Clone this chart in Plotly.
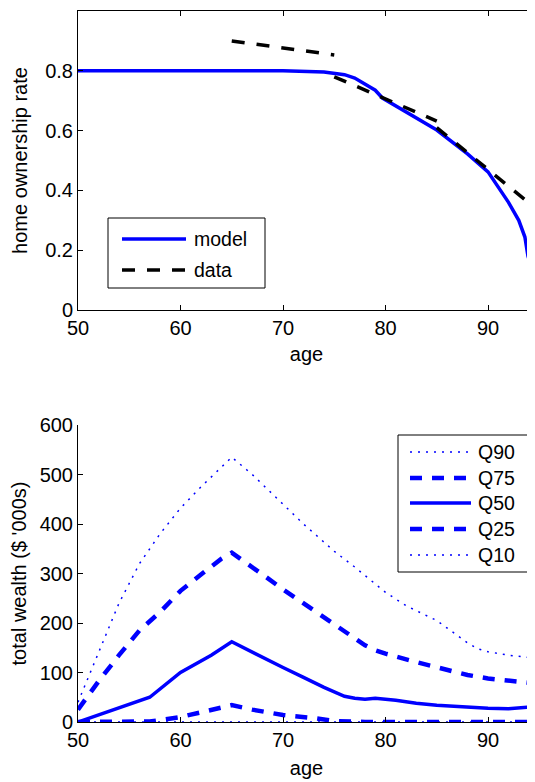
import plotly.graph_objects as go

# ---------- top panel data ----------
model_age = [50, 55, 60, 65, 70, 74, 75, 76, 77, 78, 79, 79.7, 82, 85, 88, 90, 92, 93, 93.6, 93.9, 94.6, 95]
model_val = [0.80, 0.80, 0.80, 0.80, 0.80, 0.796, 0.792, 0.787, 0.776, 0.755, 0.735, 0.709, 0.662, 0.602,
             0.522, 0.462, 0.36, 0.30, 0.244, 0.18, 0.11, 0.08]
data_age = [65, 75, None, 75, 85, None, 85, 95]
data_val = [0.90, 0.853, None, 0.78, 0.632, None, 0.61, 0.33]

# ---------- bottom panel data ----------
q90_age = [50, 52, 54, 56, 58, 60, 62, 64, 65, 67, 70, 72, 75, 77, 80, 82, 85, 88, 89, 90, 92, 94, 95]
q90_val = [40, 140, 240, 320, 380, 432, 475, 515, 535, 500, 440, 400, 345, 313, 262, 235, 205, 160, 148, 142, 135, 130, 128]
q75_age = [50, 52, 54, 56, 58, 60, 62, 64, 65, 66, 68, 70, 72, 74, 76, 78, 79, 80, 83, 86, 88, 90, 92, 94, 95]
q75_val = [25, 82, 135, 185, 222, 265, 298, 330, 342, 328, 298, 268, 240, 210, 182, 155, 145, 138, 121, 104, 95, 88, 84, 80, 77]
q50_age = [50, 53, 57, 60, 63, 65, 68, 70, 72, 74, 76, 77, 78, 79, 81, 83, 85, 88, 90, 92, 93, 94, 95]
q50_val = [0, 22, 50, 100, 135, 162, 130, 110, 90, 70, 52, 48, 46, 48, 44, 38, 34, 30, 28, 27, 28, 30, 28]
q25_age = [50, 56, 57, 60, 63, 65, 67, 70, 73, 75, 78, 95]
q25_val = [0, 0, 1, 10, 25, 34, 25, 14, 8, 2, 0, 0]
q10_age = [50, 95]
q10_val = [0, 0]

top_yticks = [0, 0.2, 0.4, 0.6, 0.8, 1]
top_ytext = ["0", "0.2", "0.4", "0.6", "0.8", "1"]
bot_yticks = [0, 100, 200, 300, 400, 500, 600]
x_ticks = [50, 60, 70, 80, 90]

BLUE = "#0000FF"
FONT = "Liberation Sans, Arial, Helvetica, sans-serif"

# the page body has an 8px margin: the figure starts at (8, 8) in the window
OFF = 8
W, H = 535 - OFF, 782 - OFF
# plot-area edges in window pixels
LEFT, RIGHT, TOP, BOTTOM = 78, 535, 11, 722
ML, MR, MT, MB = LEFT - OFF, 0, TOP - OFF, H - (BOTTOM - OFF)
PW, PH = W - ML - MR, H - MT - MB


def px(xw):
    return (xw - LEFT) / PW


def py(yw):
    return (BOTTOM - yw) / PH


styles = {
    "model": dict(color=BLUE, width=3.5),
    "data": dict(color="black", width=3.5, dash="13px,12px"),
    "Q90": dict(color=BLUE, width=1.5, dash="2px,6px"),
    "Q75": dict(color=BLUE, width=4.5, dash="12px,10px"),
    "Q50": dict(color=BLUE, width=3.5),
    "Q25": dict(color=BLUE, width=4.5, dash="12px,10px"),
    "Q10": dict(color=BLUE, width=1.5, dash="2px,6px"),
}

fig = go.Figure()

fig.add_trace(go.Scatter(x=model_age, y=model_val, mode="lines", name="model",
                         line=styles["model"], xaxis="x", yaxis="y"))
fig.add_trace(go.Scatter(x=data_age, y=data_val, mode="lines", name="data",
                         line=styles["data"], xaxis="x", yaxis="y", connectgaps=False))
for name, xs, ys in [("Q90", q90_age, q90_val), ("Q75", q75_age, q75_val), ("Q50", q50_age, q50_val),
                     ("Q25", q25_age, q25_val), ("Q10", q10_age, q10_val)]:
    fig.add_trace(go.Scatter(x=xs, y=ys, mode="lines", name=name, line=styles[name],
                             xaxis="x2", yaxis="y2"))

axis_common = dict(showline=True, linecolor="black", linewidth=1, ticks="inside", ticklen=5,
                   tickcolor="black", showgrid=False, zeroline=False, automargin=False,
                   tickfont=dict(size=20, color="black", family=FONT))

xr = [50, 50 + PW / 10.25]

shapes = []
annotations = []


def add_legend(box, entries, x0, x1, tx):
    bx0, by0, bx1, by1 = box
    shapes.append(dict(type="rect", xref="paper", yref="paper", x0=px(bx0), x1=px(bx1),
                       y0=py(by1), y1=py(by0), line=dict(color="black", width=1),
                       fillcolor="white", layer="above"))
    for name, yy in entries:
        shapes.append(dict(type="line", xref="paper", yref="paper", x0=px(x0), x1=px(x1),
                           y0=py(yy), y1=py(yy), line=styles[name], layer="above"))
        annotations.append(dict(text=name, xref="paper", yref="paper", x=px(tx), y=py(yy),
                                xanchor="left", yanchor="middle", showarrow=False,
                                font=dict(size=19.5, color="black", family=FONT)))


add_legend((108, 218, 265, 288), [("model", 239), ("data", 270)], 122, 186, 192)
add_legend((398, 435, 528, 572), [("Q90", 452), ("Q75", 478), ("Q50", 503), ("Q25", 529), ("Q10", 555)],
           410, 471, 476)

fig.update_layout(
    width=W, height=H,
    margin=dict(l=ML, r=MR, t=MT, b=MB),
    paper_bgcolor="white", plot_bgcolor="white",
    font=dict(family=FONT, size=20, color="black"),
    showlegend=False,
    xaxis=dict(domain=[0, 1], range=xr, anchor="y", tickvals=x_ticks, mirror="ticks",
               title=dict(text="age", font=dict(size=20), standoff=8), **axis_common),
    yaxis=dict(domain=[py(310), 1], range=[0, 1], anchor="x", tickvals=top_yticks, ticktext=top_ytext,
               title=dict(text="home ownership rate", font=dict(size=20), standoff=12), **axis_common),
    xaxis2=dict(domain=[0, 1], range=xr, anchor="y2", tickvals=x_ticks,
                title=dict(text="age", font=dict(size=20), standoff=10), **axis_common),
    yaxis2=dict(domain=[0, py(425)], range=[0, 600], anchor="x2", tickvals=bot_yticks,
                title=dict(text="total wealth ($ '000s)", font=dict(size=20), standoff=12), **axis_common),
    shapes=shapes,
    annotations=annotations,
)

fig.write_html("out.html")
